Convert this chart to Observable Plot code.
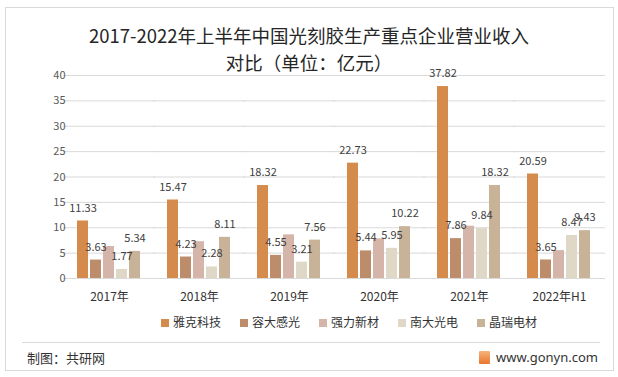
<!DOCTYPE html>
<html><head><meta charset="utf-8">
<script src="https://cdn.jsdelivr.net/npm/d3@7"></script>
<script src="https://cdn.jsdelivr.net/npm/@observablehq/plot@0.6"></script>
<style>
body{margin:0;background:#fff;font-family:"Noto Sans CJK SC","Noto Sans",sans-serif;}
#wrap{position:relative;width:618px;height:377px;overflow:hidden;}
#border{position:absolute;left:5px;top:7px;width:607px;height:362px;border:1px solid #d9d9d9;}
.title{position:absolute;left:0;width:618px;text-align:center;font-size:18.5px;color:#262626;white-space:nowrap;}
#chart{position:absolute;left:0;top:60px;}
#legend{position:absolute;left:161px;top:313px;display:flex;gap:19px;font-size:12px;color:#333;}
#legend span.sw{display:inline-block;width:8px;height:8px;margin-right:4px;vertical-align:0px;}
#fline{position:absolute;left:22px;top:342px;width:578px;border-top:1px solid #d9d9d9;}
#src{position:absolute;left:27px;top:348px;font-size:13px;color:#333;}
#site{position:absolute;right:20px;top:348px;font-size:13px;color:#333;font-family:"Noto Sans",sans-serif;}
#site i{display:inline-block;width:11px;height:13px;background:linear-gradient(#f7b27a,#e8762e);margin-right:6px;vertical-align:-2px;border-radius:1px;}
</style></head>
<body>
<div id="wrap">
<div id="border"></div>
<div class="title" style="top:22px">2017-2022年上半年中国光刻胶生产重点企业营业收入</div>
<div class="title" style="top:49px">对比（单位：亿元）</div>
<div id="chart"></div>
<div id="legend"></div>
<div id="fline"></div>
<div id="src">制图：共研网</div>
<div id="site"><i></i>www.gonyn.com</div>
</div>
<script>
const years = ["2017年","2018年","2019年","2020年","2021年","2022年H1"];
const companies = ["雅克科技","容大感光","强力新材","南大光电","晶瑞电材"];
const colors = ["#D58B4B","#BD8C6B","#D5B4A9","#DFD8C6","#C9B398"];
const yake = [11.33,15.47,18.32,22.73,37.82,20.59];
const rongda = [3.63,4.23,4.55,5.44,7.86,3.65];
const qiangli = [6.3,7.25,8.6,7.8,10.3,5.5];
const nanda = [1.77,2.28,3.21,5.95,9.84,8.47];
const jingrui = [5.34,8.11,7.56,10.22,18.32,9.43];
const labeled = ["雅克科技","容大感光","南大光电","晶瑞电材"];
const yTicks = [0,5,10,15,20,25,30,35,40];

const series = [yake,rongda,qiangli,nanda,jingrui];
const data = [];
years.forEach((y,i)=>companies.forEach((c,j)=>data.push({year:y,company:c,value:series[j][i]})));

const chart = Plot.plot({
  width:618, height:250,
  marginLeft:63, marginRight:13, marginTop:15, marginBottom:32,
  style:{fontFamily:"'Noto Sans CJK SC','Noto Sans',sans-serif", background:"transparent"},
  fx:{domain:years, paddingInner:0.27, paddingOuter:0.135, label:null},
  x:{domain:companies, paddingInner:0.15, paddingOuter:0.05, axis:null},
  y:{domain:[0,40], label:null},
  color:{domain:companies, range:colors},
  marks:[
    Plot.ruleY(yTicks,{stroke:"#d9d9d9", strokeWidth:1, insetLeft:-13, insetRight:-13}),
    Plot.barY(data,{fx:"year", x:"company", y:"value", fill:"company"}),
    Plot.text(data.filter(d=>labeled.includes(d.company)),{fx:"year", x:"company", y:"value", text:d=>d.value.toFixed(2), dy:-13, fontSize:11, fill:"#404040"}),
    Plot.axisY(yTicks,{tickSize:0, tickPadding:11, fontSize:11, color:"#595959", label:null}),
    Plot.axisFx({anchor:"bottom", tickSize:0, tickPadding:14, fontSize:12, color:"#333", label:null})
  ]
});
document.getElementById("chart").appendChild(chart);

const lg = document.getElementById("legend");
companies.forEach((c,i)=>{
  const it = document.createElement("div");
  it.innerHTML = `<span class="sw" style="background:${colors[i]}"></span>${c}`;
  lg.appendChild(it);
});
</script>
</body></html>
